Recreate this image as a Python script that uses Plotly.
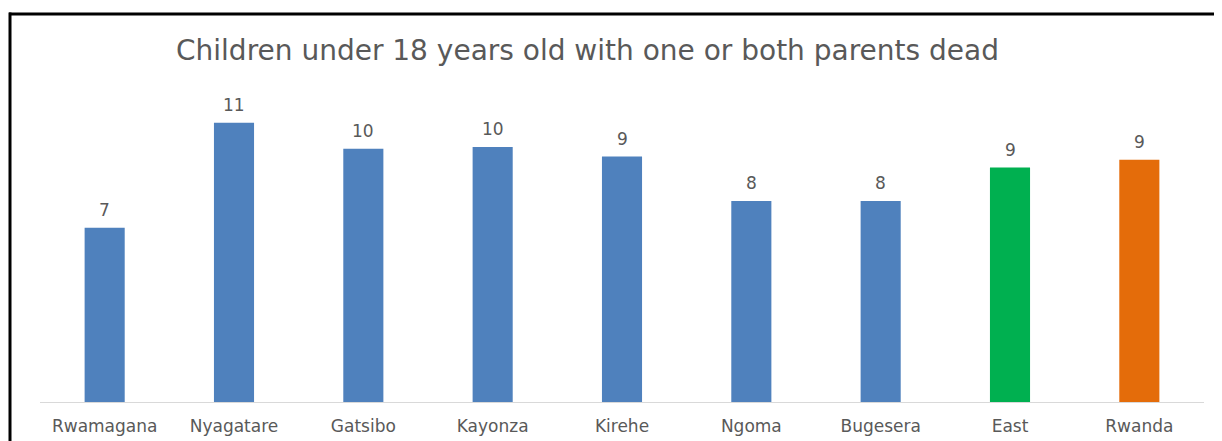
import plotly.graph_objects as go

categories = ["Rwamagana", "Nyagatare", "Gatsibo", "Kayonza", "Kirehe",
              "Ngoma", "Bugesera", "East", "Rwanda"]
values = [6.66, 10.67, 9.68, 9.75, 9.38, 7.68, 7.68, 8.96, 9.26]
bar_colors = ["#4F81BD"] * 7 + ["#00B050", "#E46C0A"]
title_text = "Children under 18 years old with one or both parents dead"

# page body has an 8px margin; work in reference-pixel coordinates and shift
OFF = 8
W, H = 1222 - OFF, 441 - OFF
L, R, T, B = 40 - OFF, 18, 88 - OFF, 39
pw, ph = W - L - R, H - T - B

def px_x(p):
    return (p - OFF - L) / pw

def px_y(p):
    return (H - B - (p - OFF)) / ph

FONT = "DejaVu Sans"
GREY = "#595959"

fig = go.Figure()
fig.add_trace(go.Bar(
    x=categories, y=values,
    marker=dict(color=bar_colors, line=dict(width=0)),
    cliponaxis=False,
    hoverinfo="x+y",
))

annotations = [dict(
    x=c, y=v, xref="x", yref="y", text=f"{round(v)}",
    showarrow=False, yanchor="bottom", yshift=6,
    font=dict(family=FONT, size=17, color=GREY),
) for c, v in zip(categories, values)]

annotations.append(dict(
    text=title_text, xref="paper", yref="paper",
    x=px_x(587), y=px_y(50), xanchor="center", yanchor="middle",
    showarrow=False,
    font=dict(family=FONT, size=28, color=GREY),
))

fig.update_layout(
    width=W, height=H,
    margin=dict(l=L, r=R, t=T, b=B, pad=0, autoexpand=False),
    paper_bgcolor="white", plot_bgcolor="white",
    bargap=0.69,
    showlegend=False,
    xaxis=dict(showgrid=False, showline=True, linecolor="#D9D9D9", linewidth=1,
               ticks="", ticklabelstandoff=9, automargin=False,
               tickfont=dict(family=FONT, size=17, color=GREY),
               fixedrange=True),
    yaxis=dict(range=[0, 12], showgrid=False, showticklabels=False, zeroline=False,
               showline=False, fixedrange=True, automargin=False),
    annotations=annotations,
    shapes=[
        dict(type="line", xref="paper", yref="paper",
             x0=px_x(9), x1=px_x(1240), y0=px_y(14), y1=px_y(14),
             line=dict(color="black", width=3)),
        dict(type="line", xref="paper", yref="paper",
             x0=px_x(10), x1=px_x(10), y0=px_y(12.5), y1=px_y(460),
             line=dict(color="black", width=3)),
    ],
)

fig.write_html("out.html")
